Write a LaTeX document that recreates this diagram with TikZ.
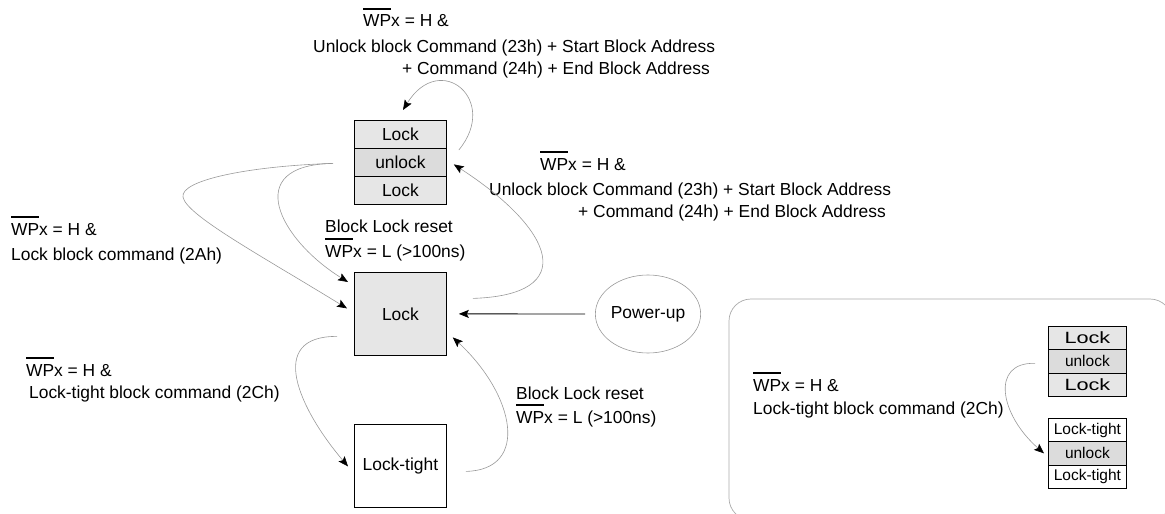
\documentclass[tikz,border=0pt]{standalone}
\usepackage{fontspec}
\setmainfont{Liberation Sans}
\usepackage{graphicx}
\usetikzlibrary{arrows.meta,shapes.geometric,calc}
\definecolor{boxgray}{HTML}{E6E6E6}
\definecolor{midgray}{HTML}{DCDCDC}
\definecolor{linegray}{HTML}{999999}
\definecolor{panelgray}{HTML}{AAAAAA}
\newsavebox\wpbox
\newcommand\wpbar{\sbox\wpbox{WP}\rlap{\rule[\dimexpr\ht\wpbox+5pt\relax]{\wd\wpbox}{1.8pt}}\usebox\wpbox}
\begin{document}
\begin{tikzpicture}[x=1pt,y=-1pt,font=\fontsize{17.4}{21}\selectfont,
  lbl/.style={anchor=base west,inner sep=0pt},
  cell/.style={draw=black,line width=0.8pt,fill=boxgray,minimum width=92pt,minimum height=28pt,inner sep=0pt,anchor=north west},
  midcell/.style={cell,fill=midgray},
  bigbox/.style={draw=black,line width=0.8pt,fill=boxgray,minimum width=92pt,minimum height=83pt,inner sep=0pt,anchor=north west},
  scell/.style={draw=black,line width=0.8pt,fill=boxgray,minimum width=78pt,minimum height=23.3pt,inner sep=0pt,anchor=north west,font=\fontsize{15.5}{18}\selectfont},
  conn/.style={draw=linegray,line width=0.6pt,-{Stealth[length=10pt,width=8pt,inset=2pt,color=black]}},
  darr/.style={draw=black,line width=0.9pt,-{Stealth[length=10pt,width=8pt,inset=2pt,color=black]}}]
\useasboundingbox (0,0) rectangle (1165,514);
% right panel
\draw[draw=panelgray,line width=0.7pt,rounded corners=22pt] (729,299) rectangle (1172,520);
% main stack
\node[cell] (s1) at (354,120) {Lock};
\node[midcell] (s2) at (354,148) {unlock};
\node[cell] (s3) at (354,176) {Lock};
% lock and lock-tight
\node[bigbox] (lock) at (354,272) {Lock};
\node[bigbox,fill=white] (tight) at (354,424) {Lock-tight};
% power-up
\node[ellipse,draw=linegray,line width=0.6pt,minimum width=104pt,minimum height=78pt,inner sep=0pt] (pu) at (648,314) {Power-up};
% right panel stacks
\node[scell] (r1) at (1048,326) {\fontsize{16.3}{18}\selectfont\scalebox{1.33}[1]{Lock}};
\node[scell,fill=midgray] (r2) at (1048,349.3) {unlock};
\node[scell] (r3) at (1048,372.6) {\fontsize{16.3}{18}\selectfont\scalebox{1.33}[1]{Lock}};
\node[scell,fill=white] (q1) at (1048,418) {Lock-tight};
\node[scell,fill=midgray] (q2) at (1048,441.3) {unlock};
\node[scell,fill=white] (q3) at (1048,464.6) {Lock-tight};
% labels
\node[lbl] (t1) at (363,27) {\wpbar x = H \&};
\node[lbl] (t2) at (313,52) {Unlock block Command (23h) + Start Block Address};
\node[lbl] (t3) at (402,74.5) {+ Command (24h) + End Block Address};
\node[lbl] (m1) at (540,170) {\wpbar x = H \&};
\node[lbl] (m2) at (489,195) {Unlock block Command (23h) + Start Block Address};
\node[lbl] (m3) at (578,217) {+ Command (24h) + End Block Address};
\node[lbl] (l1) at (11,235) {\wpbar x = H \&};
\node[lbl] (l2) at (11,260) {Lock block command (2Ah)};
\node[lbl] (b1) at (325,232) {Block Lock reset};
\node[lbl] (b2) at (325,257) {\wpbar x = L (>100ns)};
\node[lbl] (k1) at (26,376) {\wpbar x = H \&};
\node[lbl] (k2) at (29,398) {Lock-tight block command (2Ch)};
\node[lbl] (c1) at (516,399) {Block Lock reset};
\node[lbl] (c2) at (516,423) {\wpbar x = L (>100ns)};
\node[lbl] (p1) at (753,391) {\wpbar x = H \&};
\node[lbl] (p2) at (753,414) {Lock-tight block command (2Ch)};
% connectors
\coordinate (sl) at ($(s2.west)+(-21,1)$);
\path[conn] ($(s2.north east)+(12,2)$) .. controls (500,100) and (440,50) .. ($(s1.north west)+(49,-10)$);
\path[conn] ($(lock.east)+(26,-15.5)$) .. controls (580,295) and (555,230) .. ($(s2.east)+(7,2)$);
\path[darr] ($(pu.west)+(-10,0)$) -- ($(lock.east)+(12,0)$);
\path[conn] ($(tight.east)+(19,5.5)$) .. controls (530,470) and (515,395) .. ($(lock.east)+(6,23.5)$);
\path[conn] ($(lock.west)+(-17,22.5)$) .. controls (265,336) and (300,410) .. ($(tight.west)+(-6,0.5)$);
\path[conn] (sl) .. controls (250,166) and (180,180) .. (183,197) .. controls (186,215) and (260,255) .. ($(lock.west)+(-7,-5.5)$);
\path[conn] (sl) .. controls (240,165) and (280,240) .. ($(lock.north west)+(-6,10)$);
\path[conn] ($(r2.west)+(-13,2)$) .. controls (990,362) and (1000,415) .. ($(q2.west)+(-4,0)$);
\end{tikzpicture}
\end{document}
